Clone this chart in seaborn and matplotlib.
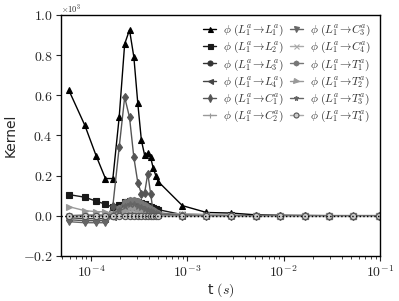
import numpy as np
import matplotlib
matplotlib.use('Agg')
import matplotlib.pyplot as plt
import seaborn as sns
from matplotlib.ticker import FuncFormatter, LogLocator

# time points (s)
t = [5.9e-5, 8.65e-5, 1.14e-4, 1.415e-4, 1.69e-4, 1.965e-4, 2.24e-4, 2.515e-4, 2.79e-4,
     3.065e-4, 3.34e-4, 3.615e-4, 3.89e-4, 4.165e-4, 4.44e-4, 4.715e-4, 4.99e-4,
     8.9e-4, 1.58e-3, 2.86e-3, 5.19e-3, 9.27e-3, 1.66e-2, 2.95e-2, 5.3e-2, 9.66e-2]

# kernel values (x10^3)
L1L1 = [0.625, 0.45, 0.295, 0.185, 0.185, 0.49, 0.855, 0.925, 0.79, 0.56, 0.375, 0.30, 0.31,
        0.29, 0.235, 0.20, 0.17, 0.05, 0.016, 0.013, 0.004, 0.002, 0.001, 0.0, 0.0, 0.0]
L1L2 = [0.105, 0.092, 0.072, 0.057, 0.042, 0.055, 0.068, 0.075, 0.072, 0.067, 0.062, 0.056, 0.05,
        0.045, 0.04, 0.035, 0.03, 0.005, 0.002, 0.001, 0.0, 0.0, 0.0, 0.0, 0.0, 0.0]
L1L3 = [0.0, 0.0, 0.0, 0.0, 0.0, 0.01, 0.02, 0.025, 0.02, 0.015, 0.012, 0.01, 0.008,
        0.006, 0.004, 0.003, 0.002, 0.0, 0.0, 0.0, 0.0, 0.0, 0.0, 0.0, 0.0, 0.0]
L1L4 = [-0.01, -0.015, -0.015, -0.015, -0.005, 0.02, 0.035, 0.04, 0.035, 0.03, 0.025, 0.02, 0.015,
        0.01, 0.008, 0.005, 0.003, 0.0, 0.0, 0.0, 0.0, 0.0, 0.0, 0.0, 0.0, 0.0]
L1C1 = [-0.02, -0.025, -0.025, -0.025, 0.05, 0.34, 0.59, 0.49, 0.29, 0.165, 0.11, 0.115, 0.21,
        0.11, 0.015, 0.01, 0.005, 0.0, 0.0, 0.0, 0.0, 0.0, 0.0, 0.0, 0.0, 0.0]
L1C2 = [0.0, 0.005, 0.005, 0.005, 0.005, 0.015, 0.025, 0.03, 0.025, 0.02, 0.015, 0.012, 0.01,
        0.008, 0.006, 0.004, 0.002, 0.01, 0.005, 0.0, 0.0, 0.0, 0.0, 0.0, 0.0, 0.0]
L1C3 = [-0.03, -0.035, -0.035, -0.035, 0.0, 0.015, 0.03, 0.035, 0.03, 0.025, 0.02, 0.016, 0.012,
        0.01, 0.008, 0.006, 0.004, 0.002, 0.0, 0.0, 0.0, 0.0, 0.0, 0.0, 0.0, 0.0]
L1C4 = [0.0, 0.0, 0.0, 0.0, 0.0, 0.01, 0.015, 0.02, 0.02, 0.015, 0.012, 0.01, 0.008,
        0.006, 0.004, 0.003, 0.002, 0.01, 0.005, 0.0, 0.0, 0.0, 0.0, 0.0, 0.0, 0.0]
L1T1 = [0.0, 0.0, 0.0, 0.0, 0.01, 0.04, 0.07, 0.08, 0.078, 0.072, 0.065, 0.055, 0.045,
        0.035, 0.028, 0.02, 0.015, 0.003, 0.0, 0.0, 0.0, 0.0, 0.0, 0.0, 0.0, 0.0]
L1T2 = [0.045, 0.025, 0.02, 0.02, 0.01, 0.02, 0.03, 0.04, 0.04, 0.035, 0.03, 0.025, 0.02,
        0.015, 0.012, 0.008, 0.005, 0.0, 0.0, 0.0, 0.0, 0.0, 0.0, 0.0, 0.0, 0.0]
L1T3 = [0.0, 0.0, 0.0, 0.0, 0.005, 0.03, 0.05, 0.06, 0.058, 0.05, 0.042, 0.035, 0.03,
        0.022, 0.016, 0.012, 0.008, 0.002, 0.0, 0.0, 0.0, 0.0, 0.0, 0.0, 0.0, 0.0]
L1T4 = [0.0] * 26

series = [L1L1, L1L2, L1L3, L1L4, L1C1, L1C2, L1C3, L1C4, L1T1, L1T2, L1T3, L1T4]
targets = ['L_1^a', 'L_2^a', 'L_3^a', 'L_4^a', 'C_1^a', 'C_2^a',
           'C_3^a', 'C_4^a', 'T_1^a', 'T_2^a', 'T_3^a', 'T_4^a']
markers = ['^', 's', 'o', '<', 'd', '+', 'v', 'x', 'h', '>', '*', 'o']
colores = ['#000000', '#1a1a1a', '#333333', '#444444', '#555555', '#999999',
           '#666666', '#aaaaaa', '#777777', '#999999', '#666666', '#aaaaaa']

sns.set_style('ticks')
plt.rcParams['font.family'] = ['DejaVu Sans']
plt.rcParams['mathtext.fontset'] = 'cm'

fig = plt.figure(figsize=(3.99, 3.01), dpi=100)
ax = fig.add_axes([0.153, 0.150, 0.7995, 0.8007])

for vals, tgt, m, c in zip(series, targets, markers, colores):
    face = '#cccccc' if tgt == 'T_4^a' else c
    sns.lineplot(x=t, y=vals, ax=ax, color=c, marker=m, markersize=4.5, linewidth=1,
                 markeredgecolor=c if tgt != 'T_4^a' else '#555555', markerfacecolor=face,
                 markeredgewidth=0.8, label=r'$\phi\ (L_1^a\!\rightarrow\!%s)$' % tgt,
                 errorbar=None, sort=False)

ax.axhline(0, color='k', ls=':', lw=1, zorder=5)

ax.set_xscale('log')
ax.set_xlim(4.9e-5, 0.1)
ax.set_ylim(-0.2, 1.0)
ax.set_yticks(np.arange(-0.2, 1.01, 0.2))
ax.yaxis.set_major_formatter(FuncFormatter(lambda v, p: '$%.1f$' % v))
ax.xaxis.set_major_locator(LogLocator(base=10, numticks=10))
ax.xaxis.set_major_formatter(FuncFormatter(lambda v, p: '$10^{%d}$' % round(np.log10(v))))
ax.tick_params(axis='both', which='major', labelsize=10, direction='out', width=0.8, length=3.5, pad=2.5)
ax.tick_params(axis='x', which='minor', direction='out', width=0.6, length=2)
for sp in ax.spines.values():
    sp.set_color('k')
    sp.set_linewidth(1.0)

ax.set_xlabel('t $(s)$', fontsize=10, labelpad=1)
ax.set_ylabel('Kernel', fontsize=10, labelpad=4)
ax.text(0.0, 1.01, r'$\times10^{3}$', transform=ax.transAxes, fontsize=6)

ax.legend(ncol=2, frameon=False, loc='upper right', bbox_to_anchor=(1.0, 1.005),
          fontsize=8.3, handlelength=1.1, columnspacing=0.5, labelspacing=0.17,
          handletextpad=0.6, markerscale=0.8, borderpad=0.3, labelcolor='#333333')

plt.savefig('out.png', dpi=100)
